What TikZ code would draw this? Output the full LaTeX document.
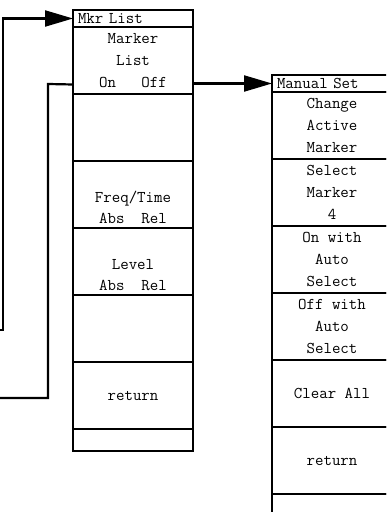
\documentclass[tikz,border=0pt]{standalone}
\usepackage{fontspec}
\usepackage{tikz}
\usetikzlibrary{arrows.meta,positioning}

\begin{document}
\begin{tikzpicture}[
      x=1bp, y=-1bp,
      >={Triangle[length=28bp,width=16bp]},
      node distance=0pt,
      title/.style={draw, line width=1.6bp, anchor=north west, inner xsep=5bp, inner ysep=0pt, outer sep=0pt, text width=110bp, minimum height=17bp, align=left, font=\ttfamily\fontsize{16.5}{18}\selectfont},
      cell/.style={draw, line width=1.6bp, inner sep=0pt, outer sep=0pt, minimum width=120bp, minimum height=67bp, align=center, font=\ttfamily\fontsize{16.5}{22}\selectfont},
      foot/.style={cell, minimum height=22bp},
      link/.style={line width=2.2bp}
    ]
    \useasboundingbox (0,0) rectangle (386,512);
    \clip (0,0) rectangle (386,512);

    % marker list menu
    \node[title] (mkr) at (73,10) {Mkr List};
    \node[cell, below=of mkr] (list) {Marker\\List\\On\ \ \ Off};
    \node[cell, below=of list] (blank-a) {};
    \node[cell, below=of blank-a] (freqtime) {\strut\\Freq/Time\\Abs\ \ Rel};
    \node[cell, below=of freqtime] (level) {\strut\\Level\\Abs\ \ Rel};
    \node[cell, below=of level] (blank-b) {};
    \node[cell, below=of blank-b] (back-a) {return};
    \node[foot, below=of back-a] (foot-a) {};

    % manual set menu
    \node[title] (manual) at (272,75) {Manual Set};
    \node[cell, below=of manual] (change) {Change\\Active\\Marker};
    \node[cell, below=of change] (select) {Select\\Marker\\4};
    \node[cell, below=of select] (onauto) {On with\\Auto\\Select};
    \node[cell, below=of onauto] (offauto) {Off with\\Auto\\Select};
    \node[cell, below=of offauto] (clearall) {Clear All};
    \node[cell, below=of clearall] (back-b) {return};
    \node[cell, below=of back-b] (foot-b) {};

    \coordinate (in-a) at (0,330);
    \coordinate (in-b) at (0,398);
    \coordinate (jog) at (48,84);

    \draw[link, ->] (in-a) -- ++(3,0) |- (mkr.west);
    \draw[link] (in-b) -| (jog) -- ([yshift=-24bp]list.west);
    \draw[link, ->] (list.east |- manual.west) -- (manual.west);
  \end{tikzpicture}
\end{document}
